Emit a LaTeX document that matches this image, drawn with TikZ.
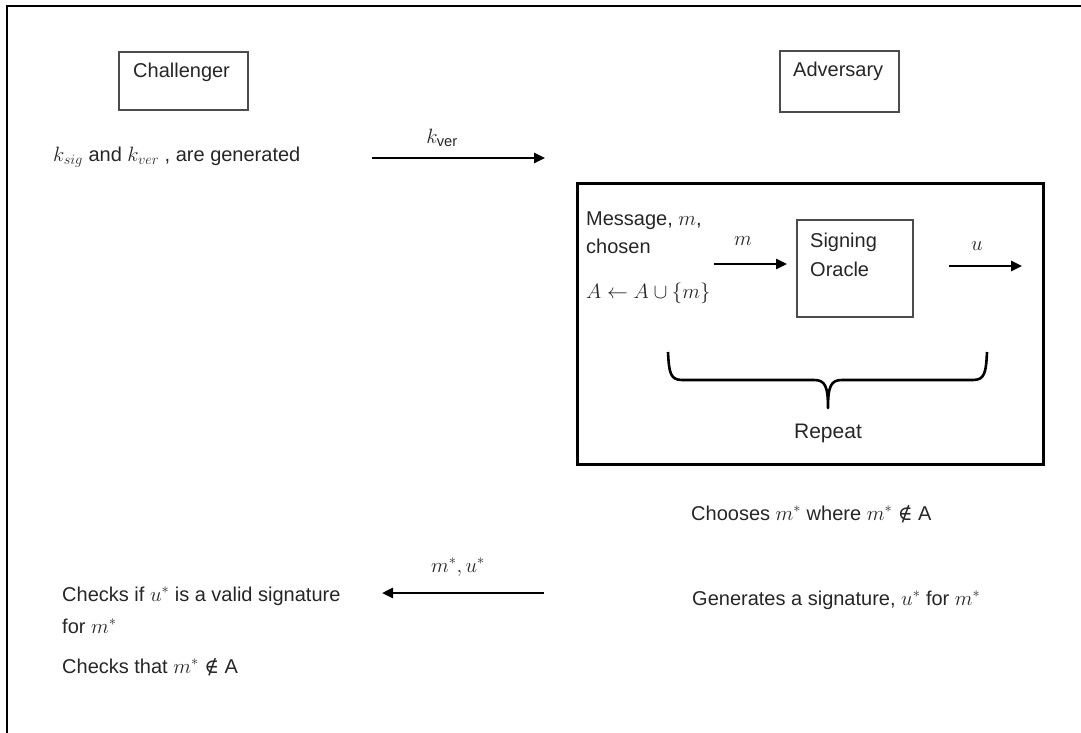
\documentclass[tikz,border=0pt]{standalone}
\usepackage{fontspec}
\setmainfont{Liberation Sans}
\newfontfamily\symfont{DejaVu Serif}
\usepackage{amssymb}
\usetikzlibrary{arrows.meta}
\newcommand{\nmem}{\text{\symfont ∉}}
\usepackage{amsmath}
\begin{document}
\begin{tikzpicture}[x=1pt,y=-1pt,
  txt/.style={anchor=base west,inner sep=0pt,text=black!85,font=\fontsize{20}{24}\selectfont},
  ctxt/.style={anchor=base,inner sep=0pt,text=black!85,font=\fontsize{21}{24}\selectfont},
  party/.style={draw=black!70,line width=1.2pt},
  flow/.style={line width=2.6pt,-{Triangle[length=11pt,width=10pt]}},
  frame/.style={draw=black,line width=2pt},
  loopframe/.style={draw=black,line width=3pt}]
  \useasboundingbox (0,0) rectangle (1081,733);
  % outer border (runs off the page on the right and bottom)
  \begin{scope}
    \clip (0,0) rectangle (1081,733);
    \draw[frame] (7,6) rectangle (1100,760);
  \end{scope}

  % the two parties
  \draw[party] (119,52) rectangle (248,110);
  \node[txt] (chal) at (133,78) {Challenger};
  \draw[party] (780,51) rectangle (899,112);
  \node[txt] (adv) at (793,77) {Adversary};

  % key generation
  \node[txt] (keygen) at (53,161) {$k_{sig}$ and $k_{ver}$ , are generated};
  \coordinate (kvA) at (372,158);
  \coordinate (kvB) at (545,158);
  \draw[flow] (kvA) -- (kvB);
  \node[ctxt] (kvlab) at (442,143) {$k_{\mathrm{ver}}$};

  % signing-oracle loop
  \draw[loopframe] (577,183) rectangle (1043,464);
  \node[txt] (msg1) at (586,225) {Message, $m$,};
  \node[txt] (msg2) at (586,253) {chosen};
  \node[txt] (upd) at (586,298) {$A\leftarrow A\cup\{m\}$};

  \draw[party] (797,220) rectangle (913,317);
  \node[txt] (sig1) at (810,247) {Signing};
  \node[txt] (sig2) at (810,276) {Oracle};

  \coordinate (mA) at (714,264);
  \coordinate (mB) at (787,264);
  \draw[flow] (mA) -- (mB);
  \node[ctxt] (mlab) at (743,245) {$m$};

  \coordinate (uA) at (949,266);
  \coordinate (uB) at (1022,266);
  \draw[flow] (uA) -- (uB);
  \node[ctxt] (ulab) at (977,250) {$u$};

  % repeat brace
  \draw[line width=2.6pt,line join=round]
    (668,352) .. controls (669,372) and (670,380) .. (682,380)
    -- (814,380) .. controls (825,380) and (828,386) .. (828,408)
    .. controls (828,386) and (831,380) .. (842,380)
    -- (973,380) .. controls (985,380) and (986,372) .. (987,352);
  \node[ctxt] (rep) at (828,438) {Repeat};

  % forgery
  \node[txt] (choose) at (691,520) {Chooses $m^{*}$ where $m^{*}$ \nmem{} A};
  \node[txt] (gen) at (692,605) {Generates a signature, $u^{*}$ for $m^{*}$};

  \coordinate (fA) at (544,593);
  \coordinate (fB) at (382,593);
  \draw[flow] (fA) -- (fB);
  \node[ctxt] (flab) at (458,572) {$m^{*},u^{*}$};

  % verification
  \node[txt] (chk1) at (62,601) {Checks if $u^{*}$ is a valid signature};
  \node[txt] (chk2) at (62,633) {for $m^{*}$};
  \node[txt] (chk3) at (62,673) {Checks that $m^{*}$ \nmem{} A};
\end{tikzpicture}
\end{document}
